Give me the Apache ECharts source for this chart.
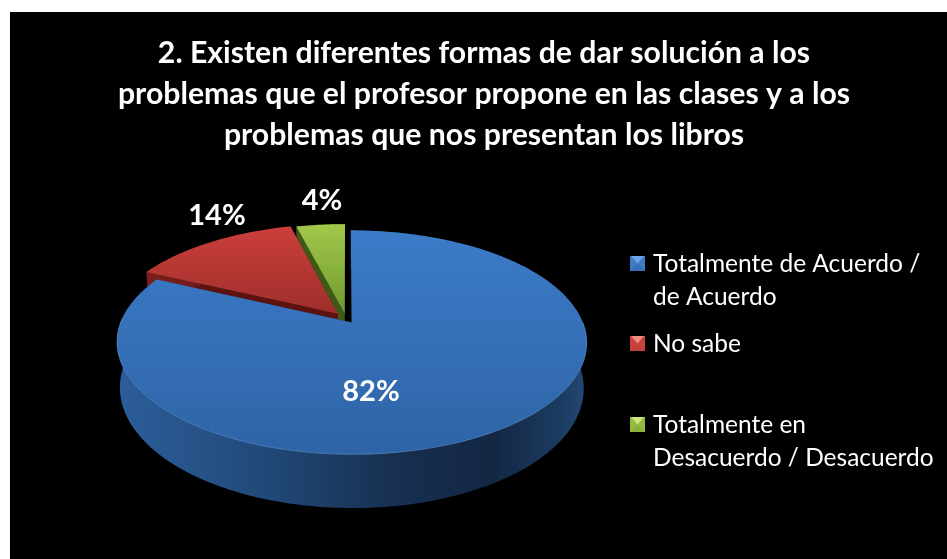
<!DOCTYPE html>
<html>
<head>
<meta charset="utf-8">
<script src="https://cdn.jsdelivr.net/npm/echarts@6/dist/echarts.min.js"></script>
<style>
  html, body { margin: 0; padding: 0; background: #fff; overflow: hidden; }
  #panel { position: absolute; left: 10px; top: 12px; right: 0; bottom: 0; background: #000; }
  #chart { position: absolute; left: 0; top: 0; width: 947px; height: 559px; }
</style>
</head>
<body>
<div id="panel"></div>
<div id="chart"></div>
<script>
const titleText = '2. Existen diferentes formas de dar solución a los\nproblemas que el profesor propone en las clases y a los\nproblemas que nos presentan los libros'
const categories = ['Totalmente de Acuerdo /\nde Acuerdo', 'No sabe', 'Totalmente en\nDesacuerdo / Desacuerdo']
const values = [82, 14, 4]

// colores por porcion: cara superior, pared, corte, leyenda
const topColors = [['#3c7bc8', '#2e64a6'], ['#cc3f3b', '#9e2f2c'], ['#a2c84a', '#6f9a30']]
const cutColors = ['#1d3f6b', '#5e1210', '#3f5a17']
const wallStops = [
  [[0, '#2c5e9b'], [0.3, '#214a7a'], [0.6, '#172f50'], [0.8, '#132743'], [0.95, '#1c3c62'], [1, '#234a78']],
  [[0, '#7a1f1c'], [1, '#5e1210']],
  [[0, '#3f5a17'], [1, '#3f5a17']]
]
const legendFacets = [
  ['#6ea3e6', '#3f7ac4', '#3470b8', '#3f7ac4'],
  ['#f08a85', '#c8423e', '#c4403c', '#c8423e'],
  ['#cde47e', '#94ba40', '#8bb03a', '#94ba40']
]

// geometria de la torta en perspectiva
const cx = 346, cy = 318.4
const rx = 229.5, ry = 107, persp = 0.175
const depth = 44, bottomScale = 0.988
const explode = [0.046, 0.056, 0.042]
const labelPos = [[371, 392], [217, 216], [322, 201]]
const legendX = 630, legendTextX = 653
const legendY = [256, 336, 417]

const total = values.reduce((a, b) => a + b, 0)
const drawOrder = [2, 1, 0]

function project(a, b, bottom) {
  const w = 1 + persp * b
  const s = bottom ? bottomScale : 1
  return [cx + rx * s * a / w, cy - ry * b / w + (bottom ? depth / w : 0)]
}

function sliceGeom(i) {
  let start = 0
  for (let k = 0; k < i; k++) start += values[k] / total * Math.PI * 2
  const end = start + values[i] / total * Math.PI * 2
  const mid = (start + end) / 2
  const dx = Math.sin(mid) * explode[i]
  const dy = Math.cos(mid) * explode[i]
  const pt = (ang, r, bottom) => project(dx + Math.sin(ang) * r, dy + Math.cos(ang) * r, bottom)
  const arc = (bottom) => {
    const n = Math.max(8, Math.round((end - start) * 60))
    const pts = []
    for (let j = 0; j <= n; j++) pts.push(pt(start + (end - start) * j / n, 1, bottom))
    return pts
  }
  return { start, end, pt, arc }
}

function linear(x0, y0, x1, y1, stops) {
  return new echarts.graphic.LinearGradient(x0, y0, x1, y1, stops.map(s => ({ offset: s[0], color: s[1] })))
}

function renderSlice(params, api) {
  const i = api.value(0)
  const g = sliceGeom(i)
  const topArc = g.arc(false)
  const botArc = g.arc(true)
  const children = []
  ;[g.start, g.end].forEach(ang => {
    children.push({
      type: 'polygon',
      shape: { points: [g.pt(ang, 0, false), g.pt(ang, 1, false), g.pt(ang, 1, true), g.pt(ang, 0, true)] },
      style: { fill: cutColors[i] }
    })
  })
  children.push({
    type: 'polygon',
    shape: { points: topArc.concat(botArc.slice().reverse()) },
    style: { fill: linear(0, 0, 1, 0, wallStops[i]) }
  })
  children.push({
    type: 'polygon',
    shape: { points: [g.pt(g.start, 0, false)].concat(topArc) },
    style: { fill: linear(0, 0, 0, 1, [[0, topColors[i][0]], [1, topColors[i][1]]]) }
  })
  if (i === 0) {
    // filo claro del borde frontal
    children.push({
      type: 'polyline',
      shape: { points: topArc.filter((p, k) => k > topArc.length * 0.3 && k < topArc.length * 0.92) },
      style: { stroke: '#5a8fd0', lineWidth: 1, fill: null, opacity: 0.7 }
    })
  }
  children.push({
    type: 'text',
    style: {
      x: labelPos[i][0], y: labelPos[i][1],
      text: Math.round(values[i] / total * 100) + '%',
      fill: '#fff', font: 'bold 29px Lato', align: 'center', verticalAlign: 'middle'
    }
  })
  return { type: 'group', children }
}

function legendGraphics() {
  const els = []
  categories.forEach((name, i) => {
    const x = legendX, y = legendY[i], s = 15, m = s / 2
    const f = legendFacets[i]
    els.push({ type: 'rect', shape: { x, y, width: s, height: s }, style: { fill: f[1] } })
    els.push({ type: 'polygon', shape: { points: [[x + 1, y], [x + s - 1, y], [x + m, y + m]] }, style: { fill: f[0] } })
    els.push({ type: 'polygon', shape: { points: [[x, y + s], [x + s, y + s], [x + m, y + m]] }, style: { fill: f[2] } })
    els.push({
      type: 'text', x: legendTextX, y: y - 8,
      style: { text: name, fill: '#fff', font: '24.5px Lato', lineHeight: 33, verticalAlign: 'top' }
    })
  })
  return els
}

const chart = echarts.init(document.getElementById('chart'), null, { renderer: 'canvas' })
chart.setOption({
  backgroundColor: 'transparent',
  animation: false,
  title: {
    text: titleText,
    left: 479, top: 28, textAlign: 'center',
    textStyle: { color: '#fff', fontFamily: 'Lato', fontWeight: 'bold', fontSize: 30.2, lineHeight: 41 }
  },
  series: [{
    type: 'custom',
    coordinateSystem: 'none',
    silent: true,
    data: drawOrder.map(i => [i]),
    renderItem: renderSlice
  }],
  graphic: { elements: legendGraphics() }
})
window.addEventListener('resize', () => chart.resize())
</script>
</body>
</html>
